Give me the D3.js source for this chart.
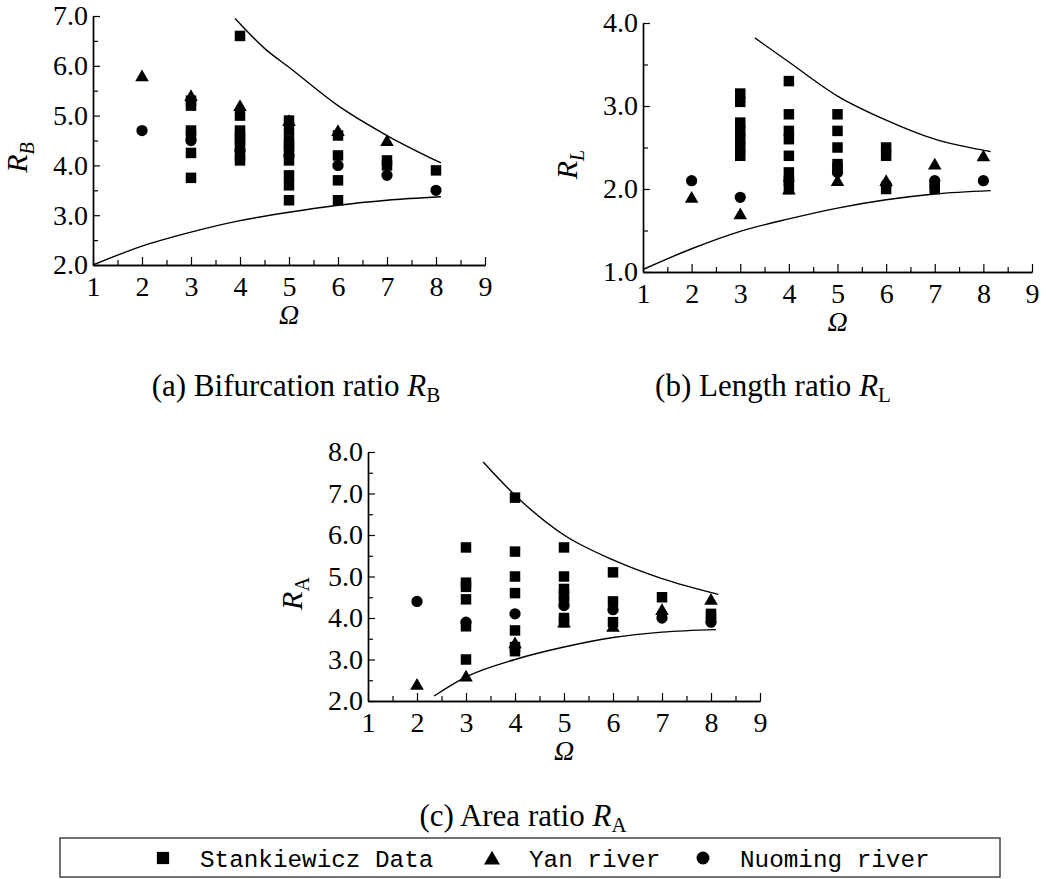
<!DOCTYPE html>
<html>
<head>
<meta charset="utf-8">
<script src="https://cdn.jsdelivr.net/npm/d3@7"></script>
<style>
body { margin: 0; background: #fff; }
svg { display: block; }
</style>
</head>
<body>
<div class="fig"></div>
<script>
// stream order axis
var orderMajor = [1, 2, 3, 4, 5, 6, 7, 8, 9];
var orderMinor = [1.5, 2.5, 3.5, 4.5, 5.5, 6.5, 7.5, 8.5];

// (a) bifurcation ratio R_B
var rbTicks = [2, 3, 4, 5, 6, 7];
var rbStank = [[3,5.3],[3,5.2],[3,4.7],[3,4.6],[3,4.25],[3,3.75],
  [4,6.6],[4,5.0],[4,4.7],[4,4.6],[4,4.5],[4,4.4],[4,4.2],[4,4.1],
  [5,4.9],[5,4.7],[5,4.5],[5,4.4],[5,4.3],[5,4.1],[5,3.8],[5,3.6],[5,3.3],
  [6,4.6],[6,4.2],[6,3.7],[6,3.3],
  [7,4.1],[7,4.0],
  [8,3.9]];
var rbYan = [[2,5.8],[3,5.4],[4,5.2],[5,4.9],[6,4.7],[7,4.5]];
var rbNuoming = [[2,4.7],[3,4.5],[4,4.3],[5,4.2],[6,4.0],[7,3.8],[8,3.5]];
var rbUpper = [[3.9,6.95],[4.5,6.35],[5,5.97],[6,5.2],[7,4.6],[8.1,4.05]];
var rbLower = [[1,2.0],[2,2.38],[3,2.66],[4,2.89],[5,3.06],[6,3.2],[7,3.3],[8.1,3.37]];

// (b) length ratio R_L
var rlTicks = [1, 2, 3, 4];
var rlStank = [[3,3.15],[3,3.05],[3,2.8],[3,2.7],[3,2.6],[3,2.5],[3,2.4],
  [4,3.3],[4,2.9],[4,2.7],[4,2.6],[4,2.4],[4,2.2],[4,2.1],[4,2.0],
  [5,2.9],[5,2.7],[5,2.5],[5,2.3],[5,2.25],
  [6,2.5],[6,2.4],[6,2.0],
  [7,2.05],[7,2.0]];
var rlYan = [[2,1.9],[3,1.7],[4,2.0],[5,2.1],[6,2.1],[7,2.3],[8,2.4]];
var rlNuoming = [[2,2.1],[3,1.9],[4,2.1],[5,2.2],[6,2.05],[7,2.1],[8,2.1]];
var rlUpper = [[3.3,3.82],[4,3.53],[5,3.12],[6,2.83],[7,2.6],[8.15,2.45]];
var rlLower = [[1,1.03],[2,1.28],[3,1.49],[4,1.64],[5,1.77],[6,1.87],[7,1.94],[8.15,1.98]];

// (c) area ratio R_A
var raTicks = [2, 3, 4, 5, 6, 7, 8];
var raStank = [[3,5.7],[3,4.85],[3,4.75],[3,4.45],[3,3.8],[3,3.0],
  [4,6.9],[4,5.6],[4,5.0],[4,4.6],[4,3.7],[4,3.3],[4,3.2],
  [5,5.7],[5,5.0],[5,4.7],[5,4.55],[5,4.4],[5,4.0],[5,3.9],
  [6,5.1],[6,4.4],[6,3.9],
  [7,4.5],
  [8,4.1],[8,4.0]];
var raYan = [[2,2.4],[3,2.6],[4,3.4],[5,3.9],[6,3.8],[7,4.2],[8,4.45]];
var raNuoming = [[2,4.4],[3,3.9],[4,4.1],[5,4.3],[6,4.2],[7,4.0],[8,3.9]];
var raUpper = [[3.35,7.76],[4,6.96],[5,6.0],[6,5.4],[7,4.95],[8.15,4.57]];
var raLower = [[2.35,2.12],[3,2.58],[4,3.0],[5,3.3],[6,3.53],[7,3.66],[8.1,3.72]];

var legendNames = ["Stankiewicz Data", "Yan river", "Nuoming river"];

var serif = "'Liberation Serif', 'Times New Roman', serif";

var svg = d3.select(".fig").append("svg").attr("width", 1046).attr("height", 879);

var panels = [
  {x0: 93, x1: 485, y0: 265, y1: 16, ticks: rbTicks, stank: rbStank, yan: rbYan, nuo: rbNuoming,
   upper: rbUpper, lower: rbLower, sub: "B", subItalic: true,
   caption: "(a) Bifurcation ratio ", capX: 296, capY: 396},
  {x0: 643, x1: 1032, y0: 272, y1: 23, ticks: rlTicks, stank: rlStank, yan: rlYan, nuo: rlNuoming,
   upper: rlUpper, lower: rlLower, sub: "L", subItalic: true,
   caption: "(b) Length ratio ", capX: 773, capY: 396},
  {x0: 368, x1: 760, y0: 701, y1: 452, ticks: raTicks, stank: raStank, yan: raYan, nuo: raNuoming,
   upper: raUpper, lower: raLower, sub: "A", subItalic: false,
   caption: "(c) Area ratio ", capX: 523, capY: 826}
];

var sq = d3.symbol().type(d3.symbolSquare).size(110);
var tri = d3.symbol().type(d3.symbolTriangle).size(80);
var circ = d3.symbol().type(d3.symbolCircle).size(100);

panels.forEach(function(p) {
  var lo = d3.min(p.ticks), hi = d3.max(p.ticks);
  var x = d3.scaleLinear().domain([1, 9]).range([p.x0, p.x1]);
  var y = d3.scaleLinear().domain([lo, hi]).range([p.y0, p.y1]);
  var yMinor = d3.range(lo + 0.5, hi, 1);

  var g = svg.append("g");

  // minor ticks
  g.append("g").attr("transform", "translate(0," + p.y0 + ")")
    .call(d3.axisBottom(x).tickValues(orderMinor).tickSize(-5).tickSizeOuter(0).tickFormat(""));
  g.append("g").attr("transform", "translate(" + p.x0 + ",0)")
    .call(d3.axisLeft(y).tickValues(yMinor).tickSize(-5).tickSizeOuter(0).tickFormat(""));

  // major ticks with labels
  var xa = g.append("g").attr("transform", "translate(0," + p.y0 + ")")
    .call(d3.axisBottom(x).tickValues(orderMajor).tickSize(-8).tickSizeOuter(0).tickPadding(11).tickFormat(d3.format("d")));
  var ya = g.append("g").attr("transform", "translate(" + p.x0 + ",0)")
    .call(d3.axisLeft(y).tickValues(p.ticks).tickSize(-7).tickSizeOuter(0).tickPadding(5).tickFormat(d3.format(".1f")));

  g.selectAll(".domain").attr("stroke", "#000").attr("stroke-width", 1.4);
  g.selectAll(".tick line").attr("stroke", "#000").attr("stroke-width", 1.2);
  [xa, ya].forEach(function(a) {
    a.attr("font-family", serif).attr("font-size", 28);
    a.selectAll("text").attr("fill", "#000");
  });

  // envelope curves
  var line = d3.line().x(function(d) { return x(d[0]); }).y(function(d) { return y(d[1]); })
    .curve(d3.curveMonotoneX);
  [p.upper, p.lower].forEach(function(c) {
    g.append("path").datum(c).attr("d", line)
      .attr("fill", "none").attr("stroke", "#000").attr("stroke-width", 1.4);
  });

  // markers: squares, then triangles, then circles
  [[p.stank, sq, 0], [p.yan, tri, 1.5], [p.nuo, circ, 0]].forEach(function(s) {
    g.selectAll(null).data(s[0]).enter().append("path")
      .attr("d", s[1])
      .attr("transform", function(d) { return "translate(" + x(d[0]) + "," + (y(d[1]) + s[2]) + ")"; })
      .attr("fill", "#000");
  });

  // axis titles
  var cy = (p.y0 + p.y1) / 2 + 17;
  var yt = g.append("text")
    .attr("transform", "translate(" + (p.x0 - 66) + "," + cy + ") rotate(-90)")
    .attr("text-anchor", "middle").attr("font-family", serif).attr("font-size", 30);
  yt.append("tspan").attr("font-style", "italic").text("R");
  yt.append("tspan").attr("font-size", 20).attr("dy", 7)
    .attr("font-style", p.subItalic ? "italic" : "normal").text(p.sub);

  g.append("text")
    .attr("x", (p.x0 + p.x1) / 2).attr("y", p.y0 + 59)
    .attr("text-anchor", "middle").attr("font-family", serif).attr("font-size", 28)
    .attr("font-style", "italic").text("\u03A9");

  // caption
  var cap = svg.append("text").attr("x", p.capX).attr("y", p.capY)
    .attr("text-anchor", "middle").attr("font-family", serif).attr("font-size", 31);
  cap.append("tspan").text(p.caption);
  cap.append("tspan").attr("font-style", "italic").text("R");
  cap.append("tspan").attr("font-size", 21).attr("dy", 6).text(p.sub);
});

// legend box
var leg = svg.append("g");
leg.append("rect").attr("x", 60).attr("y", 838).attr("width", 940).attr("height", 39)
  .attr("fill", "none").attr("stroke", "#444").attr("stroke-width", 1.5);

var legX = [163, 492, 703];
var legSym = [d3.symbol().type(d3.symbolSquare).size(150), d3.symbol().type(d3.symbolTriangle).size(110),
  d3.symbol().type(d3.symbolCircle).size(130)];
legendNames.forEach(function(n, i) {
  leg.append("path").attr("d", legSym[i]())
    .attr("transform", "translate(" + legX[i] + "," + (i === 1 ? 860 : 858) + ")").attr("fill", "#000");
  leg.append("text").attr("x", legX[i] + 37).attr("y", 867)
    .attr("font-family", "'Liberation Mono', 'DejaVu Sans Mono', monospace").attr("font-size", 24.3)
    .attr("fill", "#000").text(n);
});
</script>
</body>
</html>
